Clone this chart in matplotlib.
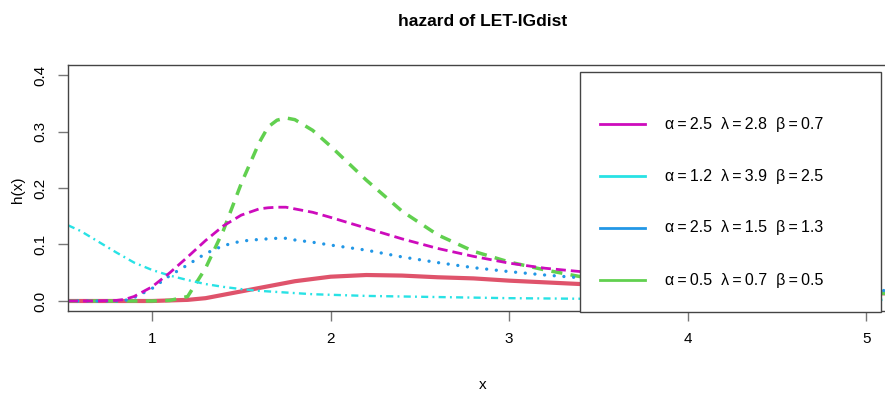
import matplotlib
matplotlib.use("Agg")
import matplotlib.pyplot as plt
from matplotlib.lines import Line2D
from matplotlib.patches import Rectangle

plt.rcParams['font.family'] = ['Liberation Sans', 'DejaVu Sans']

# values
x = [0.53, 0.6, 0.7, 0.8, 0.85, 0.9, 1.0, 1.1, 1.2, 1.3, 1.4, 1.5, 1.6, 1.65, 1.7, 1.75,
     1.8, 1.9, 2.0, 2.2, 2.4, 2.6, 2.8, 3.0, 3.2, 3.4, 3.7, 4.0, 4.5, 5.0, 5.2]

h_red = [0, 0, 0, 0, 0, 0, 0, 0.001, 0.002, 0.005, 0.011, 0.017, 0.023, 0.026, 0.029,
         0.032, 0.035, 0.039, 0.043, 0.046, 0.045, 0.042, 0.040, 0.036, 0.033, 0.030,
         0.026, 0.023, 0.018, 0.014, 0.013]
h_magenta = [0, 0, 0, 0.001, 0.003, 0.008, 0.025, 0.050, 0.078, 0.107, 0.133, 0.152,
             0.163, 0.165, 0.166, 0.166, 0.163, 0.157, 0.148, 0.129, 0.110, 0.093, 0.079,
             0.067, 0.058, 0.052, 0.044, 0.037, 0.028, 0.020, 0.018]
h_cyan = [0.134, 0.124, 0.105, 0.086, 0.077, 0.068, 0.055, 0.045, 0.037, 0.030, 0.025,
          0.021, 0.018, 0.017, 0.016, 0.015, 0.014, 0.012, 0.011, 0.009, 0.008, 0.007,
          0.006, 0.005, 0.0045, 0.004, 0.0035, 0.003, 0.0025, 0.002, 0.002]
h_blue = [0, 0, 0, 0, 0.001, 0.006, 0.022, 0.045, 0.064, 0.084, 0.098, 0.106, 0.109,
          0.110, 0.111, 0.111, 0.108, 0.104, 0.099, 0.090, 0.078, 0.068, 0.059, 0.052,
          0.046, 0.041, 0.035, 0.030, 0.024, 0.019, 0.018]
h_green = [0, 0, 0, 0, 0, 0, 0, 0.001, 0.008, 0.058, 0.125, 0.208, 0.280, 0.308, 0.320,
           0.324, 0.321, 0.302, 0.274, 0.214, 0.159, 0.117, 0.088, 0.069, 0.055, 0.043,
           0.032, 0.025, 0.018, 0.014, 0.013]

legend_labels = ["α\u2009=\u20092.5  λ\u2009=\u20092.8  β\u2009=\u20090.7",
                 "α\u2009=\u20091.2  λ\u2009=\u20093.9  β\u2009=\u20092.5",
                 "α\u2009=\u20092.5  λ\u2009=\u20091.5  β\u2009=\u20091.3",
                 "α\u2009=\u20090.5  λ\u2009=\u20090.7  β\u2009=\u20090.5"]
legend_colors = ["#CD0BBC", "#28E2E5", "#2297E6", "#61D04F"]

W, H = 885, 394
fig = plt.figure(figsize=(8.85, 3.94), dpi=100)
# plot region runs slightly past the right edge of the picture, as in the reference
ax = fig.add_axes([68 / W, 1 - 311 / H, (890 - 68) / W, (311 - 65) / H])

ax.plot(x, h_red, color="#DF536B", lw=3.0, solid_capstyle='butt')
ax.plot(x, h_green, color="#61D04F", lw=2.5, dashes=(3.2, 2.4))
ax.plot(x, h_blue, color="#2297E6", lw=2.4, dashes=(0.01, 2.9), dash_capstyle='round')
ax.plot(x, h_cyan, color="#28E2E5", lw=1.7, dashes=(3.0, 1.8, 0.8, 1.8))
ax.plot(x, h_magenta, color="#CD0BBC", lw=2.0, dashes=(3.6, 1.8))

ax.set_xlim(0.53, 5.132)
ax.set_ylim(-0.0177, 0.4177)
ax.set_xticks([1, 2, 3, 4, 5])
ax.set_yticks([0.0, 0.1, 0.2, 0.3, 0.4])
ax.set_yticklabels(["0.0", "0.1", "0.2", "0.3", "0.4"], rotation=90, va='center')
ax.tick_params(length=7, width=1, color="#777777", labelsize=11, pad=8)
for s in ax.spines.values():
    s.set_color("#444444")
    s.set_linewidth(1)

fig.text(18 / W, 1 - 190 / H, "h(x)", rotation=90, ha='center', va='center', fontsize=11)
fig.text(483 / W, 1 - 385 / H, "x", ha='center', va='center', fontsize=11)
fig.text(483 / W, 1 - 22 / H, "hazard of LET-IGdist", ha='center', va='center',
         fontsize=12.5, fontweight='bold')

# legend box drawn over the plot region
fig.patches.append(Rectangle((580 / W, 1 - 312 / H), (881 - 580) / W, (312 - 72) / H,
                             transform=fig.transFigure, facecolor='white',
                             edgecolor='#444444', lw=1, zorder=5))
for i, (lab, col) in enumerate(zip(legend_labels, legend_colors)):
    yy = 1 - (124 + 52 * i) / H
    fig.add_artist(Line2D([600 / W, 645 / W], [yy, yy], transform=fig.transFigure,
                          color=col, lw=2, zorder=6))
    fig.text(665 / W, yy, lab, ha='left', va='center', fontsize=11.5, zorder=6)

fig.savefig("out.png", dpi=100)
